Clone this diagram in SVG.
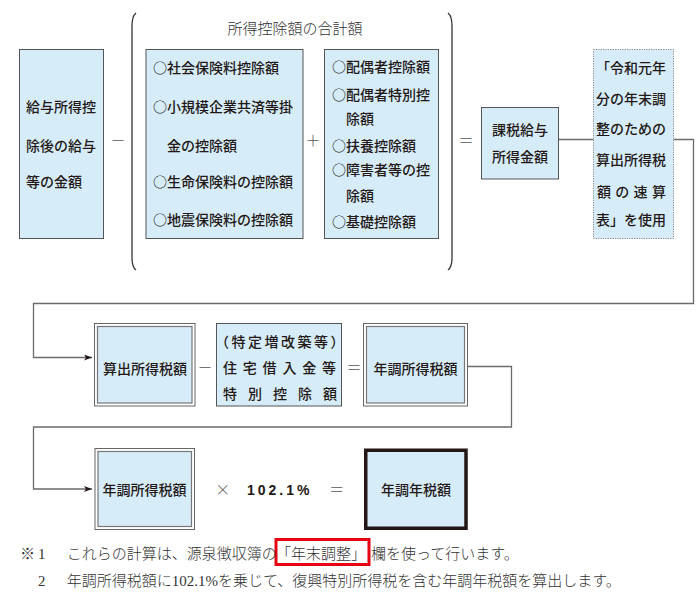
<svg xmlns="http://www.w3.org/2000/svg" width="700" height="601" viewBox="0 0 700 601">
<style>
.bx{fill:#d6ecf9;stroke:#555;stroke-width:1}
.frame{fill:#fff;stroke:#666;stroke-width:1}
.inner{fill:#d6ecf9;stroke:#777;stroke-width:1.2}
.dot{fill:#d6ecf9;stroke:#888;stroke-width:1;stroke-dasharray:1.2 1.2}
.thick{fill:#d6ecf9;stroke:#231815;stroke-width:3.5}
.t{font-family:"Noto Sans CJK JP",sans-serif;font-size:14px;font-weight:500;fill:#231815}
.c{text-anchor:middle}
.m{font-family:"Liberation Serif","Noto Sans CJK JP",serif;font-size:15px;font-weight:300;fill:#333}
.op{font-family:"Noto Sans CJK JP",sans-serif;font-size:15px;font-weight:300;fill:#555;text-anchor:middle}
.num{font-family:"Liberation Sans",sans-serif;font-size:14px;font-weight:bold;fill:#231815;letter-spacing:3px}
.ln{fill:none;stroke:#6b6b6b;stroke-width:1.3}
.br{fill:none;stroke:#333;stroke-width:1.3}
</style>
<defs>
<marker id="arr" viewBox="0 0 8 6" refX="8" refY="3" markerWidth="8" markerHeight="6" markerUnits="userSpaceOnUse" orient="auto">
<path d="M0,0 L8,3 L0,6 L2,3 z" fill="#231815"/>
</marker>
</defs>

<g id="connectors">
<path class="ln" d="M558.5 139.5 H593.5"/>
<path class="ln" d="M673.5 139.5 H693.5 V303.5 H33.5 V357.5 H92" marker-end="url(#arr)"/>
<path class="ln" d="M467.5 366.5 H511.5 V427 H33.5 V489 H92" marker-end="url(#arr)"/>
</g>

<g id="brackets">
<path class="br" d="M136 13 Q132 16 132 26 L132 258 Q132 267 136 270"/>
<path class="br" d="M448 13 Q452 16 452 26 L452 258 Q452 267 448 270"/>
</g>
<text class="m c" x="295" y="33.5">所得控除額の合計額</text>

<g id="n-kyuyo">
<rect class="bx" x="19.5" y="49.5" width="84" height="189"/>
<text class="t" x="26" y="112.3">給与所得控</text>
<text class="t" x="26" y="151">除後の給与</text>
<text class="t" x="26" y="187">等の金額</text>
</g>
<text class="op" x="118" y="145.5">－</text>

<g id="n-koujo1">
<rect class="bx" x="146" y="49.5" width="157" height="189"/>
<text class="t" x="153" y="73.3">○社会保険料控除額</text>
<text class="t" x="153" y="112.3">○小規模企業共済等掛</text>
<text class="t" x="167" y="151">金の控除額</text>
<text class="t" x="153" y="187">○生命保険料の控除額</text>
<text class="t" x="153" y="225.3">○地震保険料の控除額</text>
</g>
<text class="op" x="313" y="145.5">＋</text>

<g id="n-koujo2">
<rect class="bx" x="324.5" y="49.5" width="114" height="189"/>
<text class="t" x="332" y="72">○配偶者控除額</text>
<text class="t" x="332" y="99.5">○配偶者特別控</text>
<text class="t" x="346" y="124.3">除額</text>
<text class="t" x="332" y="151">○扶養控除額</text>
<text class="t" x="332" y="175.3">○障害者等の控</text>
<text class="t" x="346" y="201">除額</text>
<text class="t" x="332" y="227">○基礎控除額</text>
</g>
<text class="op" x="466" y="145.5">＝</text>

<g id="n-kazei">
<rect class="bx" x="481.5" y="107.5" width="77" height="71.5"/>
<text class="t c" x="520" y="135.3">課税給与</text>
<text class="t c" x="520" y="162.3">所得金額</text>
</g>

<g id="n-hayami">
<rect class="dot" x="593.5" y="49.5" width="80" height="189"/>
<text class="t" x="596" y="73.3">「令和元年</text>
<text class="t" x="596" y="104.3">分の年末調</text>
<text class="t" x="596" y="133.6">整のための</text>
<text class="t" x="596" y="165.3">算出所得税</text>
<text class="t" x="597" y="197" style="letter-spacing:4.3px">額の速算</text>
<text class="t" x="596" y="225.3">表」を使用</text>
</g>

<g id="n-sanshutsu">
<rect class="frame" x="94.5" y="323.5" width="100.5" height="82.5"/>
<rect class="inner" x="97.5" y="326.5" width="94.5" height="76.5"/>
<text class="t c" x="145" y="373.5">算出所得税額</text>
</g>
<text class="op" x="205" y="373">－</text>

<g id="n-jutaku">
<rect class="bx" x="216.5" y="323.5" width="125" height="82.5"/>
<text class="t" x="215" y="347" style="letter-spacing:2.5px">（特定増改築等）</text>
<text class="t" x="223" y="373" style="letter-spacing:5.8px">住宅借入金等</text>
<text class="t" x="223" y="399.3" style="letter-spacing:11px">特別控除額</text>
</g>
<text class="op" x="354" y="373">＝</text>

<g id="n-nenchou1">
<rect class="frame" x="363.5" y="323.5" width="104" height="82.5"/>
<rect class="inner" x="366.5" y="326.5" width="98" height="76.5"/>
<text class="t c" x="415.5" y="373.5">年調所得税額</text>
</g>

<g id="n-nenchou2">
<rect class="frame" x="95" y="448.5" width="99.5" height="81"/>
<rect class="inner" x="98" y="451.5" width="93.5" height="75"/>
<text class="t c" x="144.5" y="495.3">年調所得税額</text>
</g>
<text class="op" x="222.7" y="495">×</text>
<text class="num" x="247" y="495">102.1%</text>
<text class="op" x="336.7" y="495">＝</text>

<g id="n-nenzei">
<rect class="thick" x="365.75" y="450.25" width="100.25" height="78"/>
<text class="t c" x="416" y="495.3">年調年税額</text>
</g>

<g id="notes">
<rect x="276" y="539.5" width="93" height="25" fill="none" stroke="#e60012" stroke-width="3"/>
<text class="m" x="20" y="559">※<tspan x="38">1</tspan></text>
<text class="m" x="66.7" y="559">これらの計算は、源泉徴収簿の</text>
<text class="m" x="276" y="559">「年末調整」</text>
<text class="m" x="371" y="559">欄を使って行います。</text>
<text class="m" x="38" y="586">2</text>
<text class="m" x="66.7" y="586">年調所得税額に102.1%を乗じて、復興特別所得税を含む年調年税額を算出します。</text>
</g>
</svg>
